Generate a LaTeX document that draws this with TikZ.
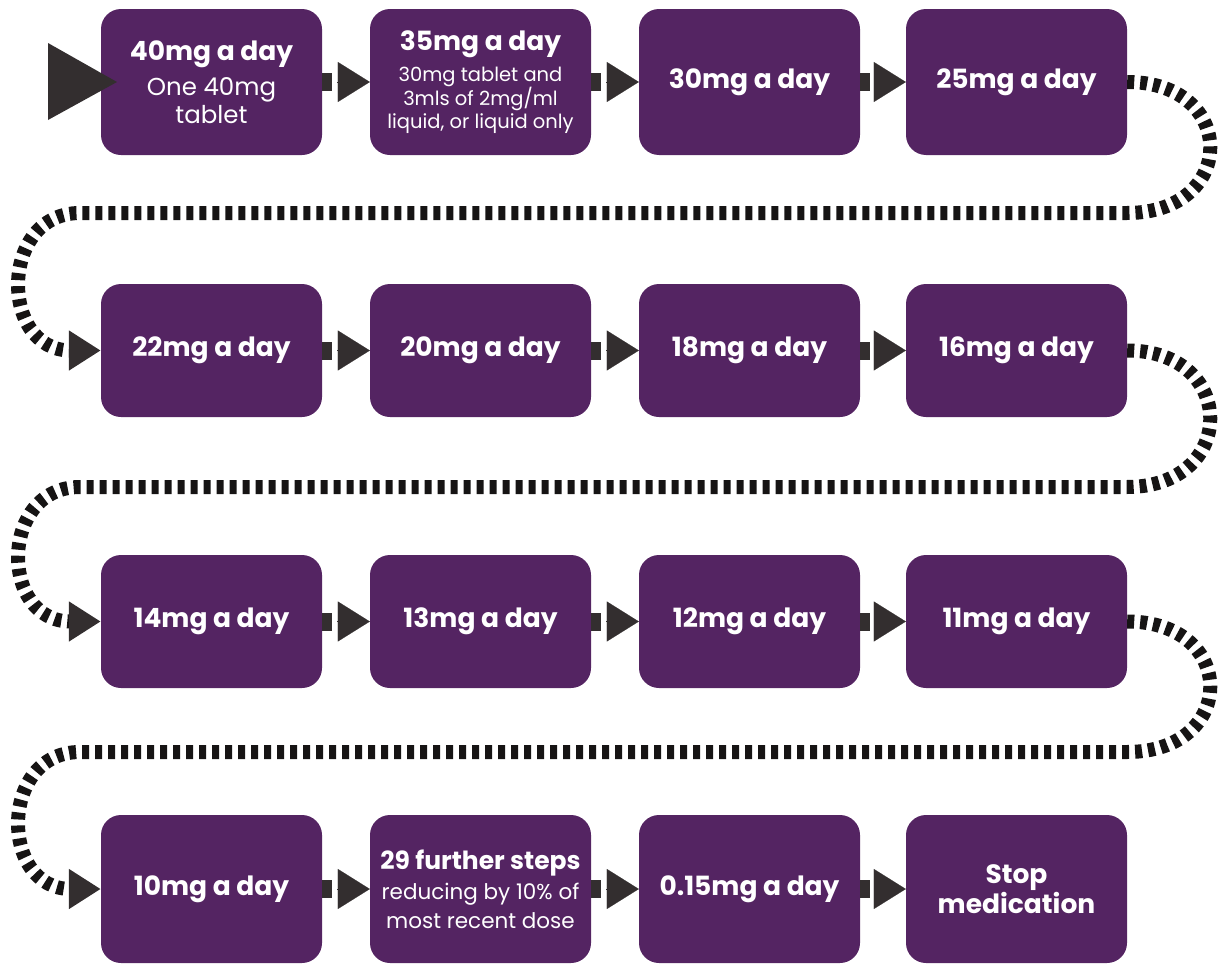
\documentclass[tikz,border=0pt]{standalone}
\usepackage{fontspec}
\setmainfont{Poppins}
\usetikzlibrary{arrows.meta}
\definecolor{boxpurple}{RGB}{84,36,98}
\definecolor{tipgray}{RGB}{51,46,47}
\definecolor{dashblack}{RGB}{22,20,20}
\newcommand\ttl[1]{{\fontsize{26.5}{30}\selectfont\bfseries #1}}
\begin{document}
\begin{tikzpicture}[x=1pt,y=-1pt,
  box/.style={fill=boxpurple, rounded corners=20pt, minimum width=221pt, text=white, align=center, inner sep=0pt, font=\fontsize{26.5}{30}\selectfont\bfseries},
  tall/.style={minimum height=146pt},
  short/.style={minimum height=133pt},
  last/.style={minimum height=148pt},
  stub/.style={draw=tipgray, line width=18pt},
  link/.style={draw=tipgray, line width=0.1pt, -{Triangle[length=32pt,width=40pt]}},
  wrap/.style={draw=dashblack, line width=14pt, dash pattern=on 7pt off 6pt, -{Triangle[length=32pt,width=38pt,color=tipgray]}}
]
\useasboundingbox (0,0) rectangle (1219,964);
% row 1
\node[box,tall,font=\fontsize{24.5}{28}\selectfont] (r1c1) at (211.5,82) {\ttl{40mg a day}\\[7pt]One 40mg\\tablet};
\node[box,tall,font=\fontsize{19.5}{23}\selectfont] (r1c2) at (480.5,82) {\ttl{35mg a day}\\[8pt]30mg tablet and\\3mls of 2mg/ml\\liquid, or liquid only};
\node[box,tall] (r1c3) at (749.5,82) {30mg a day};
\node[box,tall] (r1c4) at (1016.5,82) {25mg a day};
% row 2
\node[box,short] (r2c1) at (211.5,350.5) {22mg a day};
\node[box,short] (r2c2) at (480.5,350.5) {20mg a day};
\node[box,short] (r2c3) at (749.5,350.5) {18mg a day};
\node[box,short] (r2c4) at (1016.5,350.5) {16mg a day};
% row 3
\node[box,short] (r3c1) at (211.5,621.5) {14mg a day};
\node[box,short] (r3c2) at (480.5,621.5) {13mg a day};
\node[box,short] (r3c3) at (749.5,621.5) {12mg a day};
\node[box,short] (r3c4) at (1016.5,621.5) {11mg a day};
% row 4
\node[box,last] (r4c1) at (211.5,889) {10mg a day};
\node[box,last,font=\fontsize{21.5}{29}\selectfont] (r4c2) at (480.5,889) {{\fontsize{25}{30}\selectfont\bfseries 29 further steps}\\[1pt]reducing by 10\% of\\most recent dose};
\node[box,last] (r4c3) at (749.5,889) {0.15mg a day};
\node[box,last] (r4c4) at (1016.5,889) {Stop\\medication};
% start arrow
\fill[tipgray] (48,43) -- (117,82) -- (48,120) -- cycle;
% links within rows
\foreach \r in {1,2,3,4}{
  \foreach \a/\b in {1/2,2/3,3/4}{
    \draw[stub] (r\r c\a.east) -- ++(10,0);
    \draw[link] ([xshift=15pt]r\r c\a.east) -- (r\r c\b.west);
  }
}
% wrap-around connectors
\draw[wrap] (r1c4.east) .. controls (1238,82) and (1238,213) .. (1127,213) -- (80,213) .. controls (-1,213) and (-1,350.5) .. (r2c1.west);
\draw[wrap] (r2c4.east) .. controls (1238,350.5) and (1238,487) .. (1127,487) -- (80,487) .. controls (-1,487) and (-1,621.5) .. (r3c1.west);
\draw[wrap] (r3c4.east) .. controls (1238,621.5) and (1238,752) .. (1127,752) -- (80,752) .. controls (-1,752) and (-1,889) .. (r4c1.west);
\end{tikzpicture}
\end{document}
